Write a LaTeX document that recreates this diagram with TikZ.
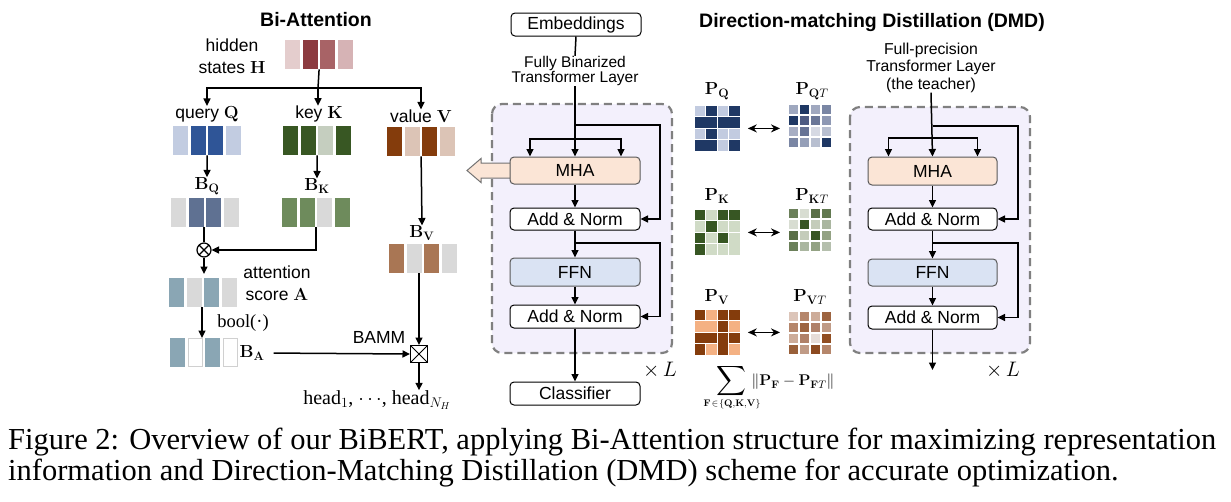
\documentclass[tikz,border=0pt]{standalone}
\usepackage{fix-cm}
\usepackage{exscale}
\usepackage[no-math]{fontspec}
\setmainfont{Liberation Sans}
\newfontfamily\capfont{Liberation Serif}
\usetikzlibrary{arrows.meta}
\definecolor{lav}{HTML}{F3F0FC}
\definecolor{dgray}{HTML}{808080}
\definecolor{mhafill}{HTML}{FBE5D6}
\definecolor{ffnfill}{HTML}{DAE3F3}
\definecolor{qD}{HTML}{1F3864}
\definecolor{qL}{HTML}{C2CBE0}
\definecolor{kD}{HTML}{375623}
\definecolor{kL}{HTML}{D0DBC6}
\definecolor{vD}{HTML}{843C0C}
\definecolor{vL}{HTML}{F4B183}
\definecolor{aC}{HTML}{8AA6B4}
\definecolor{cellgray}{HTML}{D0D0D0}
\newcommand\cellvec[4]{%
  \node[vecn] (#1) at (#2,#3) {};
  \foreach \c [count=\kk from 0] in {#4} {\definecolor{vc}{HTML}{\c}\fill[vc] ({#2+\kk*17.6},#3) rectangle ++(15,29);}
}
\newcommand\tmat[4]{%
  \node[inner sep=0pt, minimum size=42pt, anchor=north west] (#1) at (#2,#3) {};
  \foreach \c [count=\kk from 0] in {#4} {\definecolor{mc}{HTML}{\c}\fill[mc] ({#2+11*mod(\kk,4)},{#3+11*int(\kk/4)}) rectangle ++(9,9);}
}
\newcommand\smat[4]{%
  \node[inner sep=0pt, minimum size=46.4pt, anchor=north west] (#1) at (#2,#3) {};
  \foreach \i/\j/\w/\h/\cc in {#4} \fill[\cc] ({#2+11.6*\i+0.6},{#3+11.6*\j+0.6}) rectangle ({#2+11.6*(\i+\w)-0.6},{#3+11.6*(\j+\h)-0.6});
}
\begin{document}
\begin{tikzpicture}[x=1pt,y=-1pt,
  txt/.style={inner sep=0pt, font=\fontsize{17.5}{22}\selectfont, align=center},
  stxt/.style={inner sep=0pt, font=\fontsize{15.5}{15.5}\selectfont, align=center},
  ttxt/.style={inner sep=0pt, font=\fontsize{15.8}{17.5}\selectfont, align=center},
  ttl/.style={inner sep=0pt, font=\bfseries\fontsize{19.5}{22}\selectfont},
  mth/.style={inner sep=0pt, font=\fontsize{17.5}{20}\selectfont},
  arr/.style={line width=1.5pt, -{Triangle[length=7.5pt,width=7pt]}},
  darr/.style={line width=1.8pt, {Stealth[length=9pt,width=8pt]}-{Stealth[length=9pt,width=8pt]}},
  ln/.style={line width=1.5pt},
  blkbox/.style={draw=black, line width=1pt, rounded corners=4pt, fill=white, minimum width=130pt, inner sep=0pt, font=\fontsize{17.5}{20}\selectfont},
  dbox/.style={draw=dgray, line width=2.2pt, dash pattern=on 8pt off 5pt, rounded corners=10pt, fill=lav},
  vecn/.style={inner sep=0pt, minimum width=67.8pt, minimum height=29pt, anchor=north west},
  xl/.style={inner sep=0pt, font=\fontsize{21}{24}\selectfont}
]
\useasboundingbox (0,0) rectangle (1231,501);
\fill[white] (0,0) rectangle (1231,501);

% ---------------- Bi-Attention ----------------
\node[ttl] (tba) at (316,20) {Bi-Attention};
\node[txt] (lh) at (232,56) {hidden\\states $\mathbf{H}$};
\cellvec{H}{285}{40}{E4CDCD,8C3B40,A86366,D6B3B5}

\node[txt] (lq) at (207,114) {query $\mathbf{Q}$};
\node[txt] (lk) at (319,114) {key $\mathbf{K}$};
\node[txt] (lv) at (421,116) {value $\mathbf{V}$};
\coordinate (hs) at (318,88);
\draw[ln] (H.south) -- (hs);
\draw[arr] (hs) -| (lq.north);
\draw[arr] (hs) -| (lv.north);
\draw[arr] (hs) -- (hs |- lk.north);

\cellvec{Q}{173}{126}{C2CCE1,2F5597,2F5597,C2CCE1}
\cellvec{K}{283}{126}{385723,385723,C5CEBF,385723}
\cellvec{V}{387}{127}{843C0C,DCC4B6,843C0C,DCC4B6}

\node[mth] (lbq) at (207,186) {$\mathbf{B}_{\mathbf{Q}}$};
\node[mth] (lbk) at (317,186) {$\mathbf{B}_{\mathbf{K}}$};
\draw[arr] (Q.south) -- (lbq.north);
\draw[arr] (K.south) -- (lbk.north);
\cellvec{BQ}{171}{198}{D9D9D9,5F7192,5F7192,D9D9D9}
\cellvec{BK}{282}{198}{6E8B5C,6E8B5C,D9D9D9,6E8B5C}

\node[draw, circle, line width=1.2pt, minimum size=14pt, inner sep=0pt,
  path picture={\draw[line width=1.1pt] (path picture bounding box.north west) -- (path picture bounding box.south east)
  (path picture bounding box.north east) -- (path picture bounding box.south west);}] (ot) at (204,250) {};
\draw[ln] (BQ.south -| ot.north) -- (ot.north);
\draw[arr] (BK.south) |- (ot.east);

\node[txt] (latt) at (277,283) {attention\\score $\mathbf{A}$};
\cellvec{A}{169}{278}{8AA6B4,D9D9D9,8AA6B4,D9D9D9}
\draw[arr, shorten >=4pt] (ot.south) -- (ot.south |- A.north);

\node[inner sep=0pt, font=\capfont\fontsize{18.5}{20}\selectfont] (lbool) at (243,323) {bool(·)};
\node[vecn] (BA) at (170,338) {};
\fill[aC] (170,338) rectangle ++(15,29);
\draw[cellgray, line width=0.8pt, fill=white] (188.4,338.4) rectangle ++(14.2,28.2);
\fill[aC] (205.2,338) rectangle ++(15,29);
\draw[cellgray, line width=0.8pt, fill=white] (223.2,338.4) rectangle ++(14.2,28.2);
\draw[arr] (A.south -| 202,0) -- (202,338);
\node[mth] (lba) at (252,353) {$\mathbf{B}_{\mathbf{A}}$};

\node[mth] (lbv) at (422,233) {$\mathbf{B}_{\mathbf{V}}$};
\draw[arr] (V.south) -- (lbv.north);
\cellvec{BV}{389}{244}{A97654,D9D9D9,A97654,D9D9D9}

\node[draw, line width=1pt, minimum size=17pt, inner sep=0pt,
  path picture={\draw[line width=1pt] (path picture bounding box.north west) -- (path picture bounding box.south east)
  (path picture bounding box.north east) -- (path picture bounding box.south west);}] (bx) at (419,354) {};
\node[txt] (lbamm) at (379,337) {BAMM};
\draw[arr, shorten <=9pt] (lba.east) -- (bx.west);
\draw[arr] (BV.south -| bx.north) -- (bx.north);
\node[inner sep=0pt, font=\capfont\fontsize{20}{22}\selectfont] (lhead) at (377,400) {head$_1$, $\cdots$, head$_{N_H}$};
\draw[arr] (bx.south) -- (bx.south |- lhead.north);

% ---------------- Student transformer ----------------
\node[blkbox, minimum height=23pt] (emb) at (576,24.5) {Embeddings};
\node[stxt] (lfb) at (575,71) {Fully Binarized\\Transformer Layer};
\draw[ln] (emb.south) -- (lfb.north);
\path[dbox] (492,104) rectangle (672,353);
\draw[fill=mhafill, draw=black!55, line width=1pt] (512,163) -- (481,163) -- (481,158.5) -- (467,170.5) -- (481,182.5) -- (481,178) -- (512,178);
\node[blkbox, fill=mhafill, draw=black!65, minimum height=27pt] (mha) at (575,170.5) {MHA};
\node[blkbox, minimum height=22pt] (an1) at (575,219) {Add \& Norm};
\node[blkbox, fill=ffnfill, draw=black!65, minimum height=28pt] (ffn) at (575,272) {FFN};
\node[blkbox, minimum height=23pt] (an2) at (575,316.5) {Add \& Norm};
\node[blkbox, minimum height=23pt] (cls) at (575,393.5) {Classifier};
\draw[arr] (lfb.south) -- (mha.north);
\coordinate (s1) at (575,125);
\coordinate (s2) at (575,139);
\coordinate (s3) at (575,243);
\draw[arr] (s1) -- (660,125) |- (an1.east);
\draw[arr] (s2) -| ([xshift=-45pt]mha.north);
\draw[arr] (s2) -| ([xshift=46pt]mha.north);
\draw[arr] (mha.south) -- (an1.north);
\draw[arr] (an1.south) -- (ffn.north);
\draw[arr] (s3) -- (660,243) |- (an2.east);
\draw[arr] (ffn.south) -- (an2.north);
\draw[arr] (an2.south) -- (cls.north);
\node[xl] (xl1) at (660,370) {$\times\,L$};

% ---------------- DMD ----------------
\node[ttl] (tdmd) at (872,22) {Direction-matching Distillation (DMD)};

\node[mth] (lpq) at (717,91) {$\mathbf{P}_{\mathbf{Q}}$};
\node[mth] (lpqt) at (812,91) {$\mathbf{P}_{\mathbf{Q}T}$};
\smat{pq}{694}{105}{0/0/1/1/qL,1/0/1/1/qD,2/0/1/1/qL,3/0/1/1/qD,0/1/2/1/qD,2/1/2/1/qD,0/2/1/1/qL,1/2/1/1/qD,2/2/1/1/qL,3/2/1/1/qL,0/3/2/1/qD,2/3/1/1/qL,3/3/1/1/qD}
\tmat{pqt}{789}{105}{9FA8BF,1F3864,A0A8BF,7A86A4,1F3864,4E5B82,6A7697,8E98B3,A7AEC4,677395,D6D9E3,B8BFD0,7A86A4,959FB8,B8BFD0,1F3864}
\draw[darr] ([xshift=7pt]pq.east) -- ([xshift=-9pt]pq.east -| pqt.west);

\node[mth] (lpk) at (717,196) {$\mathbf{P}_{\mathbf{K}}$};
\node[mth] (lpkt) at (812,196) {$\mathbf{P}_{\mathbf{K}T}$};
\smat{pk}{694}{209}{0/0/1/1/kD,1/0/1/1/kL,2/0/1/1/kD,3/0/1/1/kD,0/1/1/1/kL,1/1/1/1/kD,2/1/1/1/kL,3/1/1/1/kL,0/2/1/1/kD,1/2/1/1/kL,2/2/1/1/kD,3/2/1/2/kL,0/3/1/1/kD,1/3/1/1/kL,2/3/1/1/kL}
\tmat{pkt}{789}{209}{6B805A,D8DDD2,5A6F47,627950,D8DDD2,375623,C4CCBA,AAB6A0,5B7048,C4CCBA,375623,93A283,6B805A,AAB6A0,93A283,B5BFAD}
\draw[darr] ([xshift=7pt]pk.east) -- ([xshift=-9pt]pk.east -| pkt.west);

\node[mth] (lpv) at (717,297) {$\mathbf{P}_{\mathbf{V}}$};
\node[mth] (lpvt) at (810,297) {$\mathbf{P}_{\mathbf{V}T}$};
\smat{pv}{694}{309}{0/0/1/1/vD,1/0/1/1/vL,2/0/1/1/vD,3/0/1/1/vD,0/1/2/1/vL,2/1/1/1/vD,3/1/1/1/vL,0/2/2/1/vD,2/2/1/2/vD,3/2/1/1/vD,0/3/1/1/vD,1/3/1/1/vL,3/3/1/1/vL}
\tmat{pvt}{789}{312}{DCC5B9,B5866B,CDAC99,9D6440,B5866B,9D6440,B08169,C09B86,CDAC99,B08169,E6DCD7,914E22,99603A,C09B86,8C4A20,B5866B}
\draw[darr] ([xshift=7pt]pv.east) -- ([xshift=-9pt]pv.east -| pvt.west);

\node[inner sep=0pt, font=\fontsize{21}{24}\selectfont] (sg) at (731,381) {$\displaystyle\sum$};
\node[inner sep=0pt, font=\fontsize{9.5}{11}\selectfont] (sgs) at (732,404) {$\mathbf{F}\!\in\!\{\mathbf{Q},\!\mathbf{K},\!\mathbf{V}\}$};
\node[inner sep=0pt, font=\fontsize{15.5}{18}\selectfont] (nrm) at (793,382) {$\|\mathbf{P}_{\mathbf{F}}-\mathbf{P}_{\mathbf{F}T}\|$};

% ---------------- Teacher ----------------
\node[ttxt] (lfp) at (931,67.5) {Full-precision\\Transformer Layer\\(the teacher)};
\path[dbox] (850,107) rectangle (1030,353);
\node[blkbox, fill=mhafill, draw=black!65, minimum width=129pt, minimum height=28pt] (tmha) at (932.5,171) {MHA};
\node[blkbox, minimum width=129pt, minimum height=22pt] (tan1) at (932.5,219) {Add \& Norm};
\node[blkbox, fill=ffnfill, draw=black!65, minimum width=129pt, minimum height=27pt] (tffn) at (932.5,272.5) {FFN};
\node[blkbox, minimum width=129pt, minimum height=23pt] (tan2) at (932.5,317.5) {Add \& Norm};
\coordinate (t1) at (932.5,126);
\coordinate (t2) at (932.5,138);
\coordinate (t3) at (932.5,243);
\coordinate (tend) at (932.5,370);
\draw[arr] (lfp.south) -- (tmha.north);
\draw[arr] (t1) -- (1018,126) |- (tan1.east);
\draw[arr] (t2) -| ([xshift=-44pt]tmha.north);
\draw[arr] (t2) -| ([xshift=45pt]tmha.north);
\draw[arr] (tmha.south) -- (tan1.north);
\draw[arr] (tan1.south) -- (tffn.north);
\draw[arr] (t3) -- (1018,243) |- (tan2.east);
\draw[arr] (tffn.south) -- (tan2.north);
\draw[arr] (tan2.south) -- (tend);
\node[xl] (xl2) at (1003,370) {$\times\,L$};

% ---------------- Caption ----------------
\node[inner sep=0pt, anchor=base west, font=\capfont\fontsize{30.5}{32}\selectfont] (cap1) at (8,449) {Figure 2: Overview of our BiBERT, applying Bi-Attention structure for maximizing representation};
\node[inner sep=0pt, anchor=base west, font=\capfont\fontsize{30.5}{32}\selectfont] (cap2) at (8,480) {information and Direction-Matching Distillation (DMD) scheme for accurate optimization.};
\end{tikzpicture}
\end{document}
